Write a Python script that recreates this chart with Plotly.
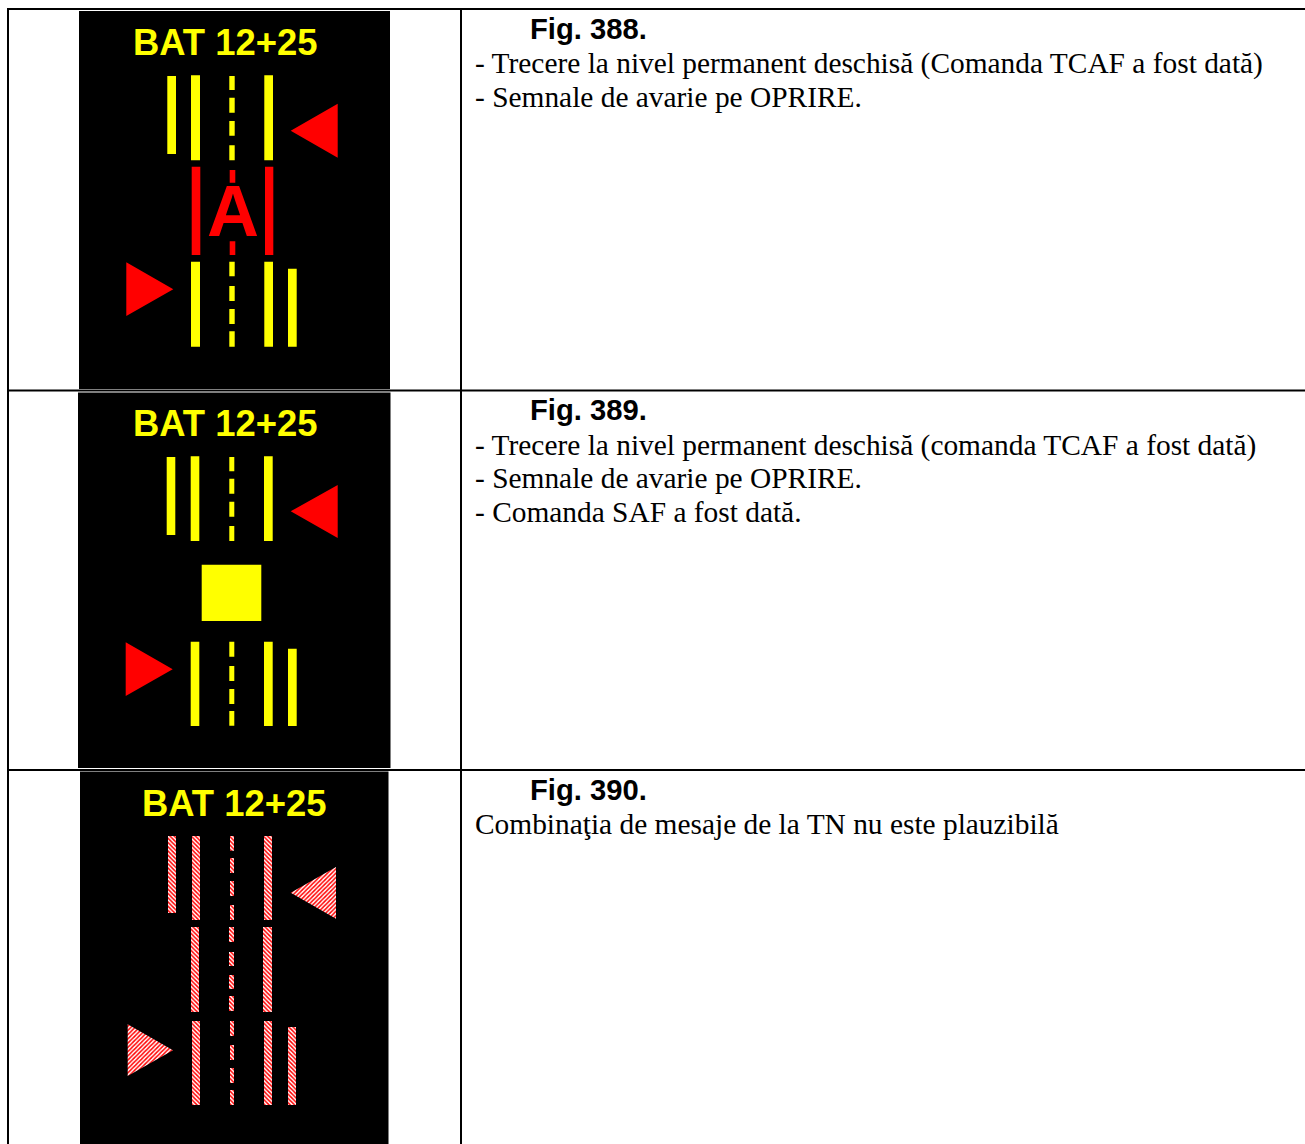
import plotly.graph_objects as go

YELLOW = "#ffff00"
RED = "#ff0000"

PANEL_TITLE = "BAT 12+25"
CAPTIONS = ["Fig. 388.", "Fig. 389.", "Fig. 390."]
TEXT_388 = ["- Trecere la nivel permanent deschisă (Comanda TCAF a fost dată)",
            "- Semnale de avarie pe OPRIRE."]
TEXT_389 = ["- Trecere la nivel permanent deschisă (comanda TCAF a fost dată)",
            "- Semnale de avarie pe OPRIRE.",
            "- Comanda SAF a fost dată."]
TEXT_390 = ["Combinaţia de mesaje de la TN nu este plauzibilă"]

# rectangles: x0, x1, y0, y1
PANELS = [(79, 390, 11, 389), (78, 390.5, 392.5, 768), (80, 388.5, 771.5, 1144)]

P1_YELLOW = [(167.3, 176, 76, 154), (191, 200, 75.3, 160.3), (264.3, 273, 75.3, 160.3),
             (229.3, 234.7, 76, 90), (229.3, 234.7, 97.7, 112.7), (229.3, 234.7, 121, 135.7), (229.3, 234.7, 145.3, 160.3),
             (191, 200, 261.7, 346.7), (264.3, 273, 261.7, 346.7), (288, 296.7, 268.7, 346.7),
             (229.3, 234.7, 261.7, 276.3), (229.3, 234.7, 286, 301), (229.3, 234.7, 309, 324), (229.3, 234.7, 331.3, 346.7)]
P1_RED = [(191.7, 200.3, 166.7, 255), (265, 273.3, 166.7, 255),
          (229.7, 235.3, 170, 182.7), (229.7, 235.3, 241.3, 255)]
P1_TRI = [[(290.7, 130.7), (337.7, 103.7), (337.7, 157.7)],
          [(126.3, 262.3), (126.3, 316), (173.3, 289.3)]]

P2_YELLOW = [(166.7, 175.3, 457, 535), (190.7, 199.3, 456.3, 541), (264, 272.7, 456.3, 541),
             (229.3, 234.3, 457, 471.3), (229.3, 234.3, 478.7, 493.7), (229.3, 234.3, 501.7, 516.7), (229.3, 234.3, 526, 541),
             (201.7, 261.3, 564.7, 621),
             (190.7, 199.3, 641.7, 726), (264, 272.7, 641.7, 726), (288, 296.7, 648.7, 726),
             (229.3, 234.3, 641.7, 656.7), (229.3, 234.3, 666, 681), (229.3, 234.3, 689, 704), (229.3, 234.3, 711, 725.7)]
P2_TRI = [[(290.7, 511.3), (337.7, 485), (337.7, 538)],
          [(125.7, 642.3), (125.7, 696), (172.7, 669.3)]]

P3_HATCH = [(168, 176, 836, 913), (192, 200, 836, 920), (264, 272, 836, 920),
            (230, 234, 836, 850.7), (230, 234, 858, 873), (230, 234, 881, 896), (230, 234, 905, 920),
            (191, 199, 927, 1012), (263, 272, 927, 1012),
            (229, 234, 927, 942), (229, 234, 952, 966), (229, 234, 975, 989), (229, 234, 996, 1011),
            (192, 200, 1021, 1105), (264, 272, 1021, 1105), (288, 296, 1027, 1105),
            (230, 234, 1021, 1036), (230, 234, 1045, 1060), (230, 234, 1068, 1083), (230, 234, 1090, 1105)]
P3_TRI = [[(290.7, 892.7), (336, 867), (336, 918.7)],
          [(127.7, 1024.3), (127.7, 1076), (173, 1050.3)]]


def rect_xy(rects):
    xs, ys = [], []
    for x0, x1, y0, y1 in rects:
        xs += [x0, x1, x1, x0, x0, None]
        ys += [y0, y0, y1, y1, y0, None]
    return xs, ys


def tri_xy(tris):
    xs, ys = [], []
    for t in tris:
        pts = t + [t[0]]
        xs += [p[0] for p in pts] + [None]
        ys += [p[1] for p in pts] + [None]
    return xs, ys


fig = go.Figure()


def add(xy, color=None, pattern=None):
    kw = dict(fillcolor=color) if color else dict(fillcolor="rgba(0,0,0,0)", fillpattern=pattern)
    fig.add_trace(go.Scatter(x=xy[0], y=xy[1], mode="lines", fill="toself",
                             line=dict(width=0), hoverinfo="skip", showlegend=False, **kw))


add(rect_xy(PANELS), "#000000")
add(rect_xy(P1_YELLOW + P2_YELLOW), YELLOW)
add(rect_xy(P1_RED), RED)
add(tri_xy(P1_TRI + P2_TRI), RED)
hatch_bar = dict(shape="\\", fgcolor=RED, bgcolor="#ffffff", size=3, solidity=0.5, fillmode="replace")
hatch_tri = dict(shape="/", fgcolor=RED, bgcolor="#ffffff", size=3, solidity=0.5, fillmode="replace")
add(rect_xy(P3_HATCH), pattern=hatch_bar)
add(tri_xy(P3_TRI), pattern=hatch_tri)

annotations = []


def note(x, y, text, family, size, color="#000000", bold=False, anchor="left"):
    annotations.append(dict(x=x, y=y, xref="x", yref="y", text=f"<b>{text}</b>" if bold else text,
                            showarrow=False, xanchor=anchor, yanchor="middle", borderpad=0, borderwidth=0,
                            font=dict(family=family, size=size, color=color)))


for cx, cy in [(225, 42.3), (224.8, 423.3), (234, 803.2)]:
    note(cx, cy, PANEL_TITLE, "Liberation Sans", 36.4, YELLOW, True, "center")
note(232.5, 211, "A", "Liberation Sans", 72, RED, True, "center")

for y, t in zip([28.5, 409.5, 789.5], CAPTIONS):
    note(530, y, t, "Liberation Sans", 29.2, bold=True)
for y, t in zip([63, 96.5], TEXT_388):
    note(475, y, t, "Liberation Serif", 29.4)
for y, t in zip([445, 478, 511.5], TEXT_389):
    note(475, y, t, "Liberation Serif", 29.4)
for y, t in zip([824], TEXT_390):
    note(475, y, t, "Liberation Serif", 29.4)

shapes = []
for y in [9, 390.5, 770]:
    shapes.append(dict(type="line", x0=7, x1=1305, y0=y, y1=y, xref="x", yref="y", line=dict(color="#000", width=2)))
for x in [8, 461]:
    shapes.append(dict(type="line", x0=x, x1=x, y0=8, y1=1144, xref="x", yref="y", line=dict(color="#000", width=2)))

fig.update_layout(width=1305, height=1144, margin=dict(l=0, r=0, t=0, b=0),
                  paper_bgcolor="#ffffff", plot_bgcolor="#ffffff",
                  annotations=annotations, shapes=shapes,
                  xaxis=dict(range=[0, 1305], visible=False, fixedrange=True),
                  yaxis=dict(range=[1144, 0], visible=False, fixedrange=True))

fig.write_html("out.html", config=dict(displayModeBar=False),
               post_script="document.body.style.margin='0';document.body.style.overflow='hidden';")
